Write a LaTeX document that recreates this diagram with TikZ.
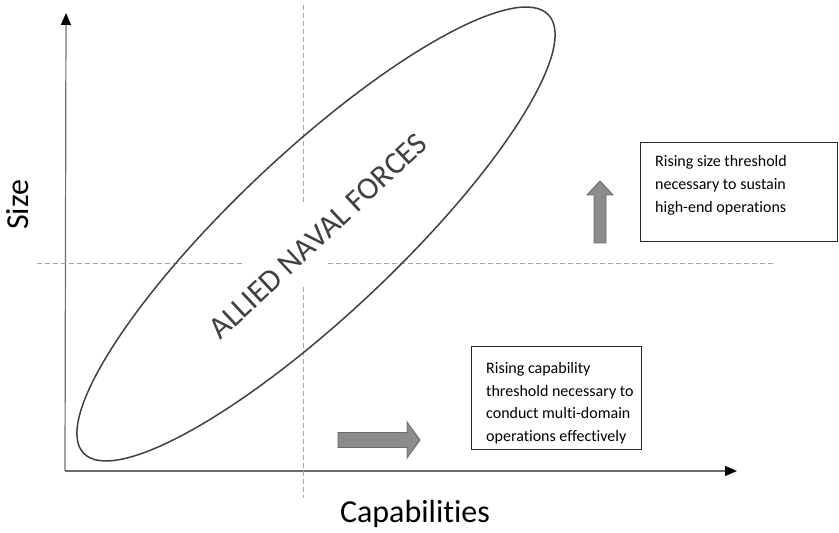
\documentclass[tikz,border=0pt]{standalone}
\usepackage{fontspec}
\setmainfont{Carlito}[Ligatures=NoCommon]
\usetikzlibrary{arrows.meta}
\definecolor{ringgray}{HTML}{404040}
\definecolor{axisgray}{HTML}{6E6E6E}
\definecolor{guidegray}{HTML}{A6A6A6}
\definecolor{blockfill}{HTML}{8C8C8C}
\definecolor{blockline}{HTML}{6A6A6A}

\begin{document}
\begin{tikzpicture}[x=1pt,y=1pt,
  axis/.style={draw=axisgray,line width=1.2pt,-{Triangle[length=12pt,width=10pt,color=black]}},
  guide/.style={draw=guidegray,line width=0.8pt,dash pattern=on 5pt off 3pt},
  block/.style={fill=blockfill,draw=blockline,line width=0.9pt},
  notebox/.style={draw=black!85,line width=1pt},
  notetext/.style={anchor=north west,align=left,inner sep=0,font=\fontsize{16}{22.8}\selectfont}]
\useasboundingbox (0,0) rectangle (839,533);
% axes
\coordinate (origin) at (65,62);
\coordinate (ytop) at (66,520);
\coordinate (xend) at (737,62);
\draw[axis] (origin) -- (ytop);
\draw[axis] (origin) -- (xend);
\node[rotate=90,anchor=base,font=\fontsize{32}{34}\selectfont] (sizelabel) at (28,328) {Size};
\node[anchor=base,font=\fontsize{32}{34}\selectfont] (caplabel) at (415,10) {Capabilities};
% thresholds
\draw[guide] (303,528) -- (303,328);
\draw[guide] (303,246) -- (303,35);
\draw[guide] (37,270) -- (245,270);
\draw[guide] (328,270) -- (773,270);
% forces
\draw[ringgray,line width=1.5pt] (316,299) ellipse[x radius=319.5,y radius=81,rotate=43.3];
\node[rotate=43,text=ringgray,font=\fontsize{31.5}{33}\selectfont] (forces) at (318,297) {ALLIED NAVAL FORCES};
% size threshold
\fill[block] (594,290) -- (606,290) -- (606,338) -- (613,338) -- (600,352) -- (587,338) -- (594,338) -- cycle;
\draw[notebox] (640,291) rectangle (837,390);
\node[notetext] (sizetext) at (655,377.5) {Rising size threshold\\necessary to sustain\\high-end operations};
% capability threshold
\fill[block] (338,85.5) -- (407,85.5) -- (407,75) -- (420,93) -- (407,111) -- (407,100.5) -- (338,100.5) -- cycle;
\draw[notebox] (471,83) rectangle (641,186);
\node[notetext] (captext) at (486,171) {Rising capability\\threshold necessary to\\conduct multi-domain\\operations effectively};
\end{tikzpicture}
\end{document}
